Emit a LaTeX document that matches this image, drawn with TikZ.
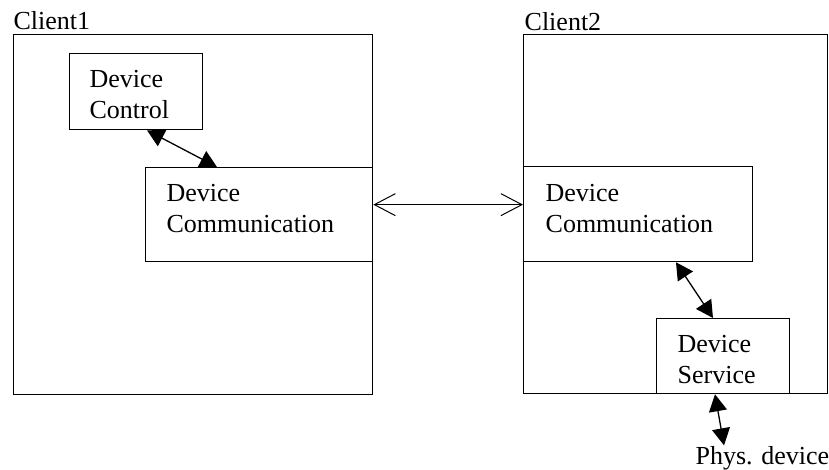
\documentclass[tikz,border=0pt]{standalone}
\usepackage{fontspec}
\setmainfont{Liberation Serif}
\usetikzlibrary{arrows.meta,positioning}

\begin{document}
\begin{tikzpicture}[x=1pt,y=-1pt,line width=1.3pt,
                    font=\fontsize{26}{31}\selectfont]
  \tikzstyle{frame}=[draw=black,anchor=north west,inner sep=0pt]
  \tikzstyle{txt}=[inner sep=0pt,align=left]
  \tikzstyle{link}=[{Triangle[length=17pt,width=18pt]}-{Triangle[length=17pt,width=18pt]}]
  \tikzstyle{wire}=[{Straight Barb[length=21pt,width=22pt]}-{Straight Barb[length=21pt,width=22pt]},
                    line width=1pt]

  \useasboundingbox (0,0) rectangle (829,470);

  % clients
  \node[frame,minimum width=359pt,minimum height=360pt] (client1) at (13,34) {};
  \node[frame,minimum width=304pt,minimum height=359pt] (client2) at (523,34) {};
  \node[txt,anchor=base west] (name1) at (13,30) {Client1};
  \node[txt,anchor=base west] (name2) at (524,31) {Client2};

  % parts
  \node[frame,minimum width=133pt,minimum height=76pt]  (ctrl)    at (69,53)   {};
  \node[frame,minimum width=227pt,minimum height=94pt]  (commA)   at (145,167) {};
  \node[frame,minimum width=229pt,minimum height=95pt]  (commB)   at (523,166) {};
  \node[frame,minimum width=133pt,minimum height=75pt]  (service) at (656,318) {};

  \node[txt,below right=17pt and 20pt of ctrl.north west]    (ctrltxt)    {Device\\Control};
  \node[txt,below right=17pt and 21pt of commA.north west]   (commAtxt)   {Device\\Communication};
  \node[txt,below right=18pt and 22pt of commB.north west]   (commBtxt)   {Device\\Communication};
  \node[txt,below right=17pt and 21pt of service.north west] (servicetxt) {Device\\Service};
  \node[txt,anchor=base west] (phys) at (695,464) {Phys. device};

  % links
  \draw[link] ([xshift=78pt]ctrl.south west) -- ([xshift=72pt]commA.north west);
  \draw[wire] ([yshift=10pt]commA.east) -- ([yshift=9.5pt]commB.west);
  \draw[link] ([xshift=153pt]commB.south west) -- ([xshift=57pt]service.north west);
  \draw[link] ([xshift=59pt]service.south west) -- ([xshift=29pt]phys.north west);
\end{tikzpicture}
\end{document}
